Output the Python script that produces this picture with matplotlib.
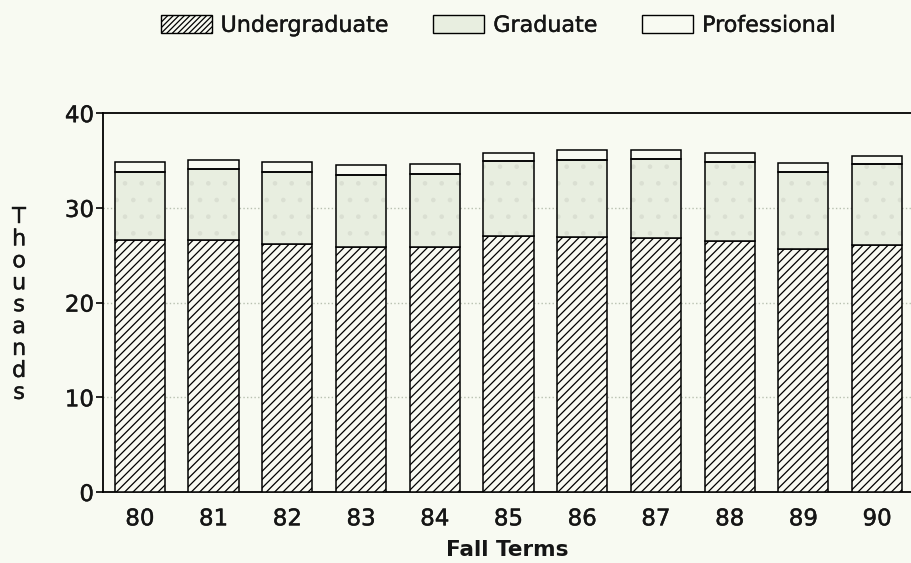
import matplotlib
matplotlib.use("Agg")
import matplotlib.pyplot as plt
from matplotlib.patches import Patch
import matplotlib.patheffects as pe
import numpy as np

plt.rcParams['font.family'] = ['DejaVu Sans']
plt.rcParams['hatch.linewidth'] = 0.9

years = ["80", "81", "82", "83", "84", "85", "86", "87", "88", "89", "90"]
undergraduate = [26.6, 26.6, 26.2, 25.9, 25.9, 27.0, 26.9, 26.8, 26.5, 25.7, 26.1]
graduate = [7.2, 7.5, 7.6, 7.6, 7.7, 7.9, 8.2, 8.4, 8.3, 8.1, 8.5]
professional = [1.0, 1.0, 1.0, 1.0, 1.0, 0.9, 1.0, 0.9, 1.0, 0.9, 0.9]
yticks = [0, 10, 20, 30, 40]

bg = '#f8faf2'
grad_color = '#e8eee0'
thick = [pe.withStroke(linewidth=0.3, foreground='#151515')]

fig = plt.figure(figsize=(9.11, 5.63), dpi=100, facecolor=bg)
ax = fig.add_axes([0.113, 0.126, 0.887, 0.673])
ax.set_facecolor(bg)

x = np.arange(len(years))
w = 0.68
ug = np.array(undergraduate)
gr = np.array(graduate)
pr = np.array(professional)

ax.bar(x, ug, w, facecolor=bg, edgecolor='black', hatch='////', linewidth=1.1, zorder=3)
ax.bar(x, gr, w, bottom=ug, facecolor=grad_color, edgecolor='#dadfd2', hatch='.', linewidth=0, zorder=3)
ax.bar(x, gr, w, bottom=ug, fill=False, edgecolor='black', linewidth=1.1, zorder=4)
ax.bar(x, pr, w, bottom=ug + gr, facecolor=bg, edgecolor='black', linewidth=1.1, zorder=3)

ax.set_xlim(-0.5, len(years) - 0.54)
ax.set_ylim(0, 40)
ax.set_yticks(yticks)
ax.set_yticklabels([str(t) for t in yticks], fontsize=16.5, color='#151515')
ax.set_xticks(x)
ax.set_xticklabels(years, fontsize=16.5, color='#151515')
ax.tick_params(axis='x', length=0, pad=11)
ax.tick_params(axis='y', length=5, width=1.2, direction='out', pad=1.5)
for lab in ax.get_xticklabels() + ax.get_yticklabels():
    lab.set_path_effects(thick)

for t in [10, 20, 30]:
    ax.axhline(t, color='#b8c0b0', linestyle=':', linewidth=1.0, zorder=1)

for s in ['left', 'bottom', 'top']:
    ax.spines[s].set_linewidth(1.3)
    ax.spines[s].set_color('black')
ax.spines['right'].set_visible(False)

ax.set_xlabel('Fall Terms', fontsize=15.5, fontweight='bold', labelpad=7, color='#151515')
fig.text(0.021, 0.458, "\n".join("Thousands"), fontsize=16, color='#151515',
         ha='center', va='center', linespacing=1.12, path_effects=thick)

handles = [
    Patch(facecolor=bg, edgecolor='black', hatch='//////', linewidth=1.0),
    Patch(facecolor=grad_color, edgecolor='black', linewidth=1.0),
    Patch(facecolor=bg, edgecolor='black', linewidth=1.0),
]
leg = fig.legend(handles, ['Undergraduate', 'Graduate', 'Professional'],
                 loc='center', bbox_to_anchor=(0.547, 0.955), ncol=3, frameon=False,
                 fontsize=16, handlelength=2.3, handleheight=0.9,
                 handletextpad=0.4, columnspacing=2.0)
for t in leg.get_texts():
    t.set_color('#151515')
    t.set_path_effects(thick)

fig.savefig('out.png', dpi=100, facecolor=bg)
